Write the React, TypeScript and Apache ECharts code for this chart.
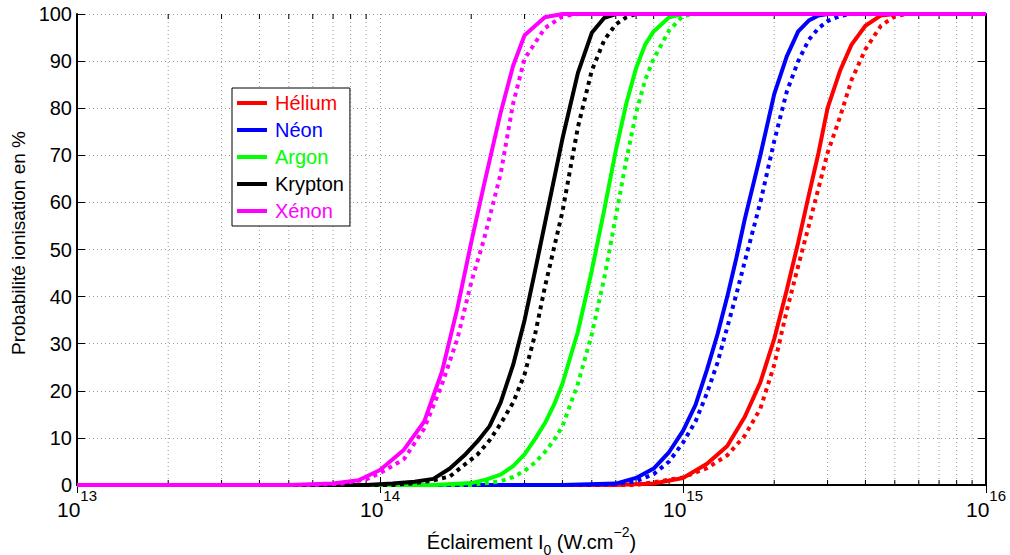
import React, { useEffect, useRef } from "react";
import * as echarts from "echarts";

// ---------- data ----------
const speciesNames = ["Hélium", "Néon", "Argon", "Krypton", "Xénon"];
const speciesColors = ["#ff0000", "#0000ff", "#00ff00", "#000000", "#ff00ff"];

const xMin = 1e13;
const xMax = 1e16;
const yTicks = [0, 10, 20, 30, 40, 50, 60, 70, 80, 90, 100];
const minorMantissas = [2, 3, 4, 5, 6, 7, 8, 9];
const minorDecades = [1e13, 1e14, 1e15];

const heliumSolid: [number, number][] = [
  [1e13, 0], [6e14, 0], [8e14, 0.3], [1e15, 1.5], [1.2e15, 4.5], [1.4e15, 8.3], [1.6e15, 14.5],
  [1.8e15, 21.8], [2e15, 31], [2.2e15, 41.4], [2.4e15, 51.5], [2.6e15, 61.5], [2.8e15, 70.5],
  [3e15, 80], [3.3e15, 88], [3.6e15, 93.5], [4e15, 97.5], [4.5e15, 99.7], [5e15, 100], [1e16, 100],
];
const heliumDotted: [number, number][] = [
  [1e13, 0], [7e14, 0], [8e14, 0.6], [1e15, 1.6], [1.2e15, 3.6], [1.4e15, 6.3], [1.6e15, 10.5],
  [1.8e15, 16.2], [2e15, 25.5], [2.2e15, 37], [2.4e15, 46.5], [2.6e15, 55], [2.8e15, 63],
  [3e15, 70.5], [3.3e15, 78.2], [3.6e15, 86], [4e15, 92.5], [4.5e15, 97.5], [5e15, 99.5],
  [5.5e15, 100], [1e16, 100],
];
const neonSolid: [number, number][] = [
  [1e13, 0], [4e14, 0], [6e14, 0.3], [7e14, 1.5], [8e14, 3.5], [9e14, 7], [1e15, 11.5],
  [1.1e15, 17], [1.2e15, 24.5], [1.3e15, 32], [1.4e15, 40], [1.5e15, 48.2], [1.6e15, 56.5],
  [1.8e15, 70], [2e15, 83], [2.2e15, 91], [2.4e15, 96.3], [2.6e15, 98.6], [2.8e15, 99.7],
  [3e15, 100], [1e16, 100],
];
const neonDotted: [number, number][] = [
  [1e13, 0], [5e14, 0], [6e14, 0.2], [7e14, 0.8], [8e14, 2.3], [9e14, 5], [1e15, 9],
  [1.1e15, 13.5], [1.2e15, 19.5], [1.3e15, 26], [1.4e15, 33.5], [1.5e15, 40.5], [1.6e15, 47.5],
  [1.8e15, 60], [2e15, 73], [2.2e15, 83.5], [2.4e15, 90], [2.6e15, 94.5], [2.8e15, 97],
  [3e15, 98.5], [3.3e15, 99.6], [3.6e15, 100], [1e16, 100],
];
const argonSolid: [number, number][] = [
  [1e13, 0], [1.5e14, 0], [2e14, 0.4], [2.25e14, 1.2], [2.5e14, 2.2], [2.75e14, 4], [3e14, 6.5],
  [3.25e14, 9.8], [3.5e14, 13.1], [3.75e14, 17], [4e14, 21.5], [4.5e14, 32.6], [5e14, 45.5],
  [5.5e14, 58.5], [6e14, 71], [6.5e14, 81], [7e14, 88.5], [7.5e14, 93.5], [8e14, 96.3],
  [9e14, 99.3], [1e15, 100], [1e16, 100],
];
const argonDotted: [number, number][] = [
  [1e13, 0], [2e14, 0], [2.5e14, 0.8], [2.75e14, 1.7], [3e14, 3], [3.25e14, 4.8], [3.5e14, 7],
  [3.75e14, 9.5], [4e14, 12.5], [4.5e14, 21.5], [5e14, 32], [5.5e14, 44], [6e14, 57],
  [6.5e14, 69], [7e14, 79], [7.5e14, 86], [8e14, 90.5], [9e14, 96.5], [1e15, 99.6],
  [1.1e15, 100], [1e16, 100],
];
const kryptonSolid: [number, number][] = [
  [1e13, 0], [9e13, 0], [1.1e14, 0.3], [1.3e14, 0.7], [1.5e14, 1.3], [1.7e14, 3.5], [1.9e14, 6.3],
  [2.1e14, 9.3], [2.3e14, 12.5], [2.5e14, 17.5], [2.75e14, 25.5], [3e14, 35], [3.25e14, 45.5],
  [3.5e14, 55.5], [4e14, 73.5], [4.5e14, 87.5], [5e14, 96], [5.5e14, 99.2], [6e14, 100],
  [1e16, 100],
];
const kryptonDotted: [number, number][] = [
  [1e13, 0], [1.1e14, 0], [1.3e14, 0.4], [1.5e14, 1.0], [1.7e14, 1.8], [1.9e14, 4.3], [2.1e14, 6.5],
  [2.3e14, 9.5], [2.5e14, 13], [2.75e14, 17.5], [3e14, 23.5], [3.25e14, 32], [3.5e14, 42],
  [4e14, 58], [4.5e14, 76], [5e14, 88], [5.5e14, 94.5], [6e14, 97.8], [6.5e14, 99.3],
  [7e14, 100], [1e16, 100],
];
const xenonSolid: [number, number][] = [
  [1e13, 0], [5e13, 0], [7e13, 0.3], [8.5e13, 1.0], [1e14, 3.2], [1.2e14, 7.5], [1.4e14, 13.5],
  [1.6e14, 24], [1.8e14, 37.5], [2e14, 51.5], [2.2e14, 63.5], [2.5e14, 79], [2.75e14, 89],
  [3e14, 95.5], [3.5e14, 99.3], [4e14, 100], [1e16, 100],
];
const xenonDotted: [number, number][] = [
  [1e13, 0], [6e13, 0], [7.5e13, 0.3], [9e13, 1.2], [1e14, 2.5], [1.2e14, 5.5], [1.4e14, 12],
  [1.6e14, 21.3], [1.8e14, 31], [2e14, 43], [2.2e14, 52], [2.5e14, 66], [2.75e14, 81],
  [3e14, 90.5], [3.5e14, 97], [4e14, 99.5], [4.5e14, 100], [1e16, 100],
];

const solidSets = [heliumSolid, neonSolid, argonSolid, kryptonSolid, xenonSolid];
const dottedSets = [heliumDotted, neonDotted, argonDotted, kryptonDotted, xenonDotted];

const FONT = "'Liberation Sans', Arial, Helvetica, sans-serif";
const W = 1010;
const H = 555;

export default function App() {
  const ref = useRef<HTMLDivElement>(null);

  useEffect(() => {
    if (!ref.current) return;
    document.body.style.margin = "0";
    document.body.style.overflow = "hidden";
    const chart = echarts.init(ref.current, undefined, { renderer: "svg", width: W, height: H });

    const minorTicks: number[] = [];
    minorDecades.forEach((d) => minorMantissas.forEach((m) => minorTicks.push(m * d)));

    const series: any[] = [
      {
        type: "custom",
        name: "__minor",
        z: 1,
        silent: true,
        data: minorTicks.map((v) => [v, 0]),
        encode: { x: 0, y: 1 },
        renderItem: (params: any, api: any) => {
          const v = api.value(0);
          const top = api.coord([v, 100]);
          const bot = api.coord([v, 0]);
          return {
            type: "group",
            children: [
              {
                type: "line",
                shape: { x1: top[0], y1: top[1], x2: bot[0], y2: bot[1] },
                style: { stroke: "#9a9a9a", lineWidth: 1, lineDash: [1, 3] },
              },
              {
                type: "line",
                shape: { x1: bot[0], y1: bot[1], x2: bot[0], y2: bot[1] - 5 },
                style: { stroke: "#000", lineWidth: 1 },
              },
              {
                type: "line",
                shape: { x1: top[0], y1: top[1], x2: top[0], y2: top[1] + 5 },
                style: { stroke: "#000", lineWidth: 1 },
              },
            ],
          };
        },
      },
    ];

    speciesNames.forEach((name, i) => {
      series.push({
        type: "line",
        name,
        data: solidSets[i],
        showSymbol: false,
        clip: false,
        z: 3,
        lineStyle: { color: speciesColors[i], width: 4, type: "solid" },
        itemStyle: { color: speciesColors[i] },
      });
      series.push({
        type: "line",
        name: name + " (pointillé)",
        data: dottedSets[i],
        showSymbol: false,
        clip: false,
        z: 3,
        lineStyle: { color: speciesColors[i], width: 4, type: [4, 4.5], cap: "butt" },
        itemStyle: { color: speciesColors[i] },
      });
    });

    const axisLineStyle = { color: "#000", width: 2 };
    const tok = (fontSize: number, padTop: number, total: number) => ({
      fontSize,
      lineHeight: fontSize,
      fontFamily: FONT,
      color: "#000",
      padding: [padTop, 0, total - fontSize - padTop, 0],
    });

    chart.setOption({
      animation: false,
      backgroundColor: "#fff",
      textStyle: { fontFamily: FONT },
      grid: { left: 77, right: 24, top: 14, bottom: 70, containLabel: false, outerBoundsMode: "none" },
      legend: {
        show: true,
        selectedMode: false,
        orient: "vertical",
        left: 232,
        top: 88,
        icon: "rect",
        itemWidth: 30,
        itemHeight: 4,
        itemGap: 7,
        padding: [5, 6, 5, 5],
        borderColor: "#000",
        borderWidth: 1,
        backgroundColor: "#fff",
        textStyle: { fontSize: 20, fontFamily: FONT, padding: [0, 0, 0, 3] },
        data: speciesNames.map((n, i) => ({
          name: n,
          itemStyle: { color: speciesColors[i] },
          textStyle: { color: speciesColors[i] },
        })),
      },
      xAxis: [
        {
          type: "log",
          logBase: 10,
          min: xMin,
          max: xMax,
          position: "bottom",
          axisLine: { show: true, lineStyle: axisLineStyle },
          axisTick: { show: true, inside: true, length: 8, lineStyle: { color: "#000", width: 1 } },
          splitLine: { show: true, lineStyle: { color: "#9a9a9a", width: 1, type: [1, 3] } },
          axisLabel: {
            margin: 8,
            color: "#000",
            formatter: (v: number) => `{b|10}{s|${Math.round(Math.log10(v))}}`,
            rich: {
              b: tok(21, 11, 32),
              s: tok(15, 0, 32),
            },
          },
          name: "{a|Éclairement I}{sub|0}{a| (W.cm}{sup|−2}{a|)}",
          nameLocation: "middle",
          nameGap: 26,
          nameTextStyle: {
            rich: {
              a: tok(20, 8, 40),
              sub: tok(14, 19, 40),
              sup: tok(14, 1, 40),
            },
          },
        },
        {
          type: "log",
          logBase: 10,
          min: xMin,
          max: xMax,
          position: "top",
          axisLine: { show: true, lineStyle: axisLineStyle },
          axisTick: { show: true, inside: true, length: 8, lineStyle: { color: "#000", width: 1 } },
          axisLabel: { show: false },
          splitLine: { show: false },
        },
      ],
      yAxis: [
        {
          type: "value",
          min: 0,
          max: 100,
          interval: 10,
          position: "left",
          axisLine: { show: true, lineStyle: axisLineStyle },
          axisTick: { show: true, inside: true, length: 8, lineStyle: { color: "#000", width: 1 } },
          splitLine: { show: true, lineStyle: { color: "#9a9a9a", width: 1, type: [1, 3] } },
          axisLabel: {
            margin: 5,
            color: "#000",
            fontSize: 20,
            fontFamily: FONT,
            formatter: (v: number) => (yTicks.includes(v) ? String(v) : ""),
          },
          name: "Probabilité ionisation en %",
          nameLocation: "middle",
          nameGap: 40,
          nameTextStyle: { fontSize: 19, fontFamily: FONT, color: "#000", padding: [0, 0, 0, 13] },
        },
        {
          type: "value",
          min: 0,
          max: 100,
          interval: 10,
          position: "right",
          axisLine: { show: true, lineStyle: axisLineStyle },
          axisTick: { show: true, inside: true, length: 8, lineStyle: { color: "#000", width: 1 } },
          axisLabel: { show: false },
          splitLine: { show: false },
        },
      ],
      series,
    });

    return () => chart.dispose();
  }, []);

  return (
    <div
      ref={ref}
      style={{ position: "absolute", left: 0, top: 0, width: W, height: H, background: "#fff" }}
    />
  );
}
